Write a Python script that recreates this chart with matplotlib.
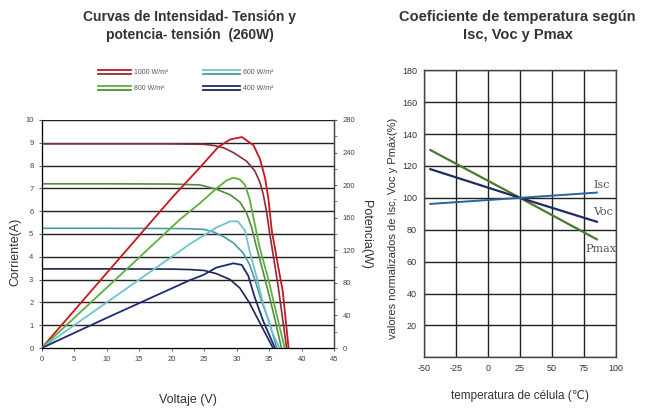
import matplotlib
matplotlib.use("Agg")
import matplotlib.pyplot as plt
from matplotlib.lines import Line2D
from matplotlib.ticker import MultipleLocator

plt.rcParams['font.family'] = ['Liberation Sans', 'DejaVu Sans']
plt.rcParams['axes.unicode_minus'] = False

# curvas I-V y P-V
v_i1000 = [0, 10, 20, 25, 26.5, 28, 29.5, 31.5, 32.8, 33.6, 34.1, 34.6, 35.0, 36.4, 37.7]
i_1000 = [8.95, 8.95, 8.95, 8.93, 8.88, 8.78, 8.57, 8.2, 7.77, 7.26, 6.74, 6.0, 5.2, 2.7, 0]
v_p1000 = [0, 10, 20, 24.4, 27.2, 29, 30.8, 32.6, 33.6, 34.4, 34.9, 35.4, 36.4, 37.1, 38.0]
p_1000 = [0, 92, 184, 222, 247, 256, 259, 249, 232, 208, 183, 145, 100, 70, 0]

v_i800 = [0, 10, 20, 24.4, 26.9, 29.0, 30.5, 31.5, 32.3, 33.0, 34.4, 35.7, 36.9]
i_800 = [7.2, 7.2, 7.19, 7.15, 6.96, 6.72, 6.4, 5.95, 5.3, 4.5, 3.0, 1.5, 0]
v_p800 = [0, 10, 21.3, 24.4, 26.9, 28.5, 29.5, 30.5, 31.3, 32.0, 32.8, 33.5, 34.9, 36.2, 37.4]
p_800 = [0, 74, 158, 178, 196, 206, 209, 207, 200, 183, 152, 125, 84, 40, 0]

v_i600 = [0, 10, 20, 22.8, 25, 26.4, 27.9, 29.5, 31, 32, 32.8, 33.8, 34.9, 36.2]
i_600 = [5.25, 5.25, 5.24, 5.23, 5.2, 5.09, 4.9, 4.61, 4.17, 3.66, 3.0, 2.1, 1.23, 0]
v_p600 = [0, 10, 22.8, 24.9, 26.9, 29, 30.2, 31.3, 32, 33.1, 34.1, 35.4, 36.6]
p_600 = [0, 56, 127.6, 138, 148, 155.5, 155.5, 144, 119, 86.5, 54, 21, 0]

v_i400 = [0, 10, 20, 22.8, 25, 26.9, 29, 30.5, 32, 33.6, 35.6]
i_400 = [3.47, 3.47, 3.46, 3.44, 3.4, 3.26, 3.0, 2.63, 1.97, 1.09, 0]
v_p400 = [0, 10, 22.8, 24.9, 26.9, 29.5, 30.8, 31.8, 32.8, 34.1, 35.9]
p_400 = [0, 37, 83.3, 89.8, 98.8, 104, 102, 88.6, 62, 33, 0]

irradiancias = ["1000 W/m²", "800 W/m²", "600 W/m²", "400 W/m²"]
col_p = ["#c8161e", "#5fae3e", "#6ec4cc", "#1c2a78"]
col_i = ["#8a2c38", "#4f8d3c", "#4f9aa2", "#1a2552"]

# coeficiente de temperatura
temp = [-45, 25, 85]
isc = [96.2, 100, 103.3]
voc = [118, 100, 85]
pmax = [130, 100, 74]

fig = plt.figure(figsize=(6.47, 4.08), dpi=100)
txt = "#333333"

# ---------- grafico izquierdo ----------
ax = fig.add_axes([0.0645, 0.147, 0.4518, 0.559])
ax.set_xlim(0, 45)
ax.set_ylim(0, 10)
ax.set_xticks(range(0, 46, 5))
ax.set_yticks(range(0, 11))
for k in range(1, 11):
    ax.axhline(k, color="#222222", lw=1.0, zorder=1)
ax.spines['top'].set_visible(False)
for s in ['left', 'bottom', 'right']:
    ax.spines[s].set_color("#444444")
    ax.spines[s].set_linewidth(0.9)
ax.tick_params(labelsize=5.5, colors="#444444", length=2.5, width=0.6)

ax2 = ax.twinx()
ax2.set_ylim(0, 280)
ax2.yaxis.set_major_locator(MultipleLocator(40))
ax2.yaxis.set_minor_locator(MultipleLocator(20))
ax2.spines['top'].set_visible(False)
ax2.spines['right'].set_color("#444444")
ax2.spines['right'].set_linewidth(0.9)
ax2.tick_params(labelsize=5.5, colors="#444444", length=2.5, width=0.6)
ax2.tick_params(which='minor', length=1.8, width=0.5, colors="#444444")

series_i = [(v_i1000, i_1000), (v_i800, i_800), (v_i600, i_600), (v_i400, i_400)]
series_p = [(v_p1000, p_1000), (v_p800, p_800), (v_p600, p_600), (v_p400, p_400)]
for (vx, iy), c in zip(series_i, col_i):
    ax.plot(vx, iy, color=c, lw=1.2, zorder=3)
for (vx, py), c in zip(series_p, col_p):
    ax2.plot(vx, py, color=c, lw=1.3, zorder=3)

ax.set_ylabel("Corriente(A)", fontsize=9, color=txt)
ax.yaxis.set_label_coords(-0.07, 0.42)
ax.set_xlabel("Voltaje (V)", fontsize=9, color=txt, labelpad=22)
ax2.set_ylabel("Potencia(W)", fontsize=9, color=txt, rotation=270, labelpad=12)

fig.text(0.293, 0.975, "Curvas de Intensidad- Tensión y\npotencia- tensión  (260W)",
         ha="center", va="top", fontsize=10, fontweight="bold", color=txt,
         linespacing=1.3)

# leyenda de lineas dobles
leg_pos = [(98, 131, 72), (98, 131, 88), (203, 240, 72), (203, 240, 88)]
W, H = 647.0, 408.0
for (x0, x1, yc), lab, cp, ci in zip(leg_pos, irradiancias, col_p, col_i):
    for dy, c in ((-2.2, cp), (2.2, ci)):
        fig.add_artist(Line2D([x0 / W, x1 / W], [1 - (yc + dy) / H] * 2,
                              color=c, lw=1.3, transform=fig.transFigure))
    fig.text((x1 + 3) / W, 1 - yc / H, lab, fontsize=5, color="#555555",
             ha="left", va="center")

# ---------- grafico derecho ----------
bx = fig.add_axes([0.6553, 0.1243, 0.2968, 0.7034])
bx.set_xlim(-50, 100)
bx.set_ylim(0, 180)
bx.set_xticks(range(-50, 101, 25))
bx.set_yticks(range(0, 181, 20))
bx.set_yticklabels(["" if v == 0 else str(v) for v in range(0, 181, 20)])
bx.grid(True, color="#222222", lw=1.0)
bx.set_axisbelow(True)
for s in bx.spines.values():
    s.set_color("#444444")
    s.set_linewidth(1.0)
bx.tick_params(labelsize=6.5, colors="#333333", length=0, pad=5)

bx.plot(temp, pmax, color="#4a7a2c", lw=1.6, zorder=3)
bx.plot(temp, voc, color="#1f2a60", lw=1.6, zorder=3)
bx.plot(temp, isc, color="#2a62a0", lw=1.4, zorder=3)

serif = ['DejaVu Serif']
bx.text(82, 108, "Isc", fontsize=8, family=serif, color="#555555", ha="left", va="center")
bx.text(82, 91, "Voc", fontsize=8, family=serif, color="#555555", ha="left", va="center")
bx.text(76, 68, "Pmax", fontsize=8, family=serif, color="#555555", ha="left", va="center")

bx.set_ylabel("valores normalizados de Isc, Voc y Pmáx(%)", fontsize=8, color=txt)
bx.yaxis.set_label_coords(-0.135, 0.45)
bx.set_xlabel("temperatura de célula (℃)", fontsize=8.5, color=txt, labelpad=12)

fig.text(0.80, 0.975, "Coeficiente de temperatura según\nIsc, Voc y Pmax",
         ha="center", va="top", fontsize=10.5, fontweight="bold", color=txt,
         linespacing=1.3)

fig.savefig("out.png", dpi=100)
